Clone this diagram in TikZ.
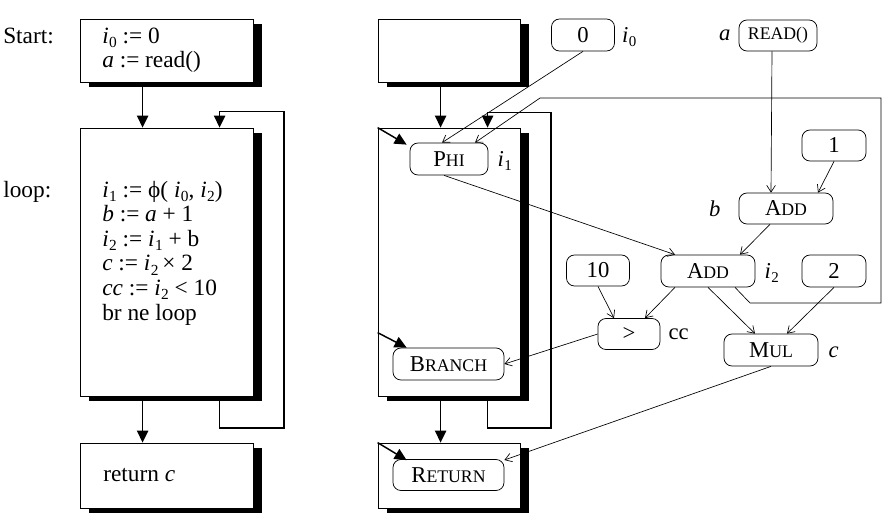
\documentclass[tikz,border=0pt]{standalone}
\usepackage{fontspec}
\setmainfont{Liberation Serif}
\usetikzlibrary{arrows.meta,calc,shadows}
\newcommand\bfnt{\fontsize{17.5}{17.5}\selectfont}
\newcommand\nfnt{\fontsize{17}{17}\selectfont}
\newcommand\smc[2]{#1{\fontsize{13.3}{13.3}\selectfont #2}}
\newcommand\vi[1]{\textit{i}\kern0.3pt\raisebox{-0.18em}{\fontsize{0.66em}{0.66em}\selectfont #1}}
\begin{document}
\begin{tikzpicture}[x=0.75pt,y=-0.75pt,
  blk/.style={draw=black,line width=0.6pt,fill=white,inner sep=0pt,
    drop shadow={shadow xshift=6.4pt,shadow yshift=-3.4pt,fill=black,opacity=1}},
  op/.style={draw=black,line width=0.55pt,rounded corners=6pt,fill=white,inner sep=0pt,font=\nfnt},
  txt/.style={inner sep=0pt,font=\bfnt},
  lbl/.style={inner sep=0pt,font=\nfnt},
  edge/.style={line width=0.5pt,-{Straight Barb[length=5pt,width=6.5pt]}},
  thk/.style={line width=1.1pt,-{Triangle[length=9pt,width=8.5pt]}}]
\useasboundingbox (0,0) rectangle (888,522);

% ---- left column blocks
\node[blk,minimum width=129.75pt,minimum height=47.25pt] (lst) at (166.5,50.5) {};
\node[blk,minimum width=129.75pt,minimum height=201pt] (llp) at (166.5,262) {};
\node[blk,minimum width=129.75pt,minimum height=48.75pt] (lrt) at (166.5,475.5) {};

\node[txt,anchor=base west] (lab1) at (3,43) {Start:};
\node[txt,anchor=base west] (lab2) at (3,197) {loop:};
\node[txt,anchor=base west] (s1) at (102,43) {\vi{0} := 0};
\node[txt,anchor=base west] (s2) at (102,67.6) {\textit{a} := read()};
\node[txt,anchor=base west] (l1) at (102,197) {\vi{1} := ϕ( \vi{0}, \vi{2})};
\node[txt,anchor=base west] (l2) at (102,221.6) {\textit{b} := \textit{a} + 1};
\node[txt,anchor=base west] (l3) at (102,246.2) {\vi{2} := \vi{1} + b};
\node[txt,anchor=base west] (l4) at (102,270.8) {\textit{c} := \vi{2}\,× 2};
\node[txt,anchor=base west] (l5) at (102,295.4) {\textit{cc} := \vi{2} < 10};
\node[txt,anchor=base west] (l6) at (102,320) {br ne loop};
\node[txt,anchor=base west] (r1) at (103,481) {return \textit{c}};

\draw[thk] ($(lst.south west)+(63,0)$) -- ($(llp.north west)+(63,0)$);
\draw[thk] ($(llp.south west)+(63,0)$) -- ($(lrt.north west)+(63,0)$);
\draw[thk] ($(llp.south west)+(140,0)$) |- (284,428) |- ($(llp.north west)+(140,-16)$) -- ($(llp.north west)+(140,0)$);

% ---- right column blocks
\node[blk,minimum width=106.5pt,minimum height=47.25pt] (rst) at (449,50.5) {};
\node[blk,minimum width=106.5pt,minimum height=201pt] (rlp) at (449,262) {};
\node[blk,minimum width=106.5pt,minimum height=48.75pt] (rrt) at (449,475.5) {};

\draw[thk] ($(rst.south west)+(63,0)$) -- ($(rlp.north west)+(63,0)$);
\draw[thk] ($(rlp.south west)+(63,0)$) -- ($(rrt.north west)+(63,0)$);
\draw[thk] ($(rlp.south west)+(110,0)$) |- (551,428) |- ($(rlp.north west)+(110,-15)$) -- ($(rlp.north west)+(110,0)$);

% ---- graph nodes
\node[op,minimum width=58.5pt,minimum height=24pt] (phi) at (449,159) {\smc{P}{HI}};
\node[op,minimum width=47.25pt,minimum height=24pt] (zero) at (583,35) {0};
\node[op,minimum width=58.5pt,minimum height=23.25pt] (read) at (778,35.5) {\fontsize{13.3}{13.3}\selectfont READ()};
\node[op,minimum width=48pt,minimum height=23.25pt] (one) at (834,145.5) {1};
\node[op,minimum width=70.5pt,minimum height=23.25pt] (addb) at (786,208.5) {\smc{A}{DD}};
\node[op,minimum width=70.5pt,minimum height=24pt] (addi) at (708,271) {\smc{A}{DD}};
\node[op,minimum width=48pt,minimum height=24pt] (two) at (834,271) {2};
\node[op,minimum width=47.25pt,minimum height=23.25pt] (ten) at (598,270.5) {10};
\node[op,minimum width=46.5pt,minimum height=23.25pt] (gt) at (629,334) {>};
\node[op,minimum width=70.5pt,minimum height=24pt] (mul) at (771,350) {\smc{M}{UL}};
\node[op,minimum width=83.25pt,minimum height=24pt] (branch) at (448.5,364) {\smc{B}{RANCH}};
\node[op,minimum width=83.25pt,minimum height=23.25pt] (ret) at (448.5,475) {\smc{R}{ETURN}};

% labels
\node[lbl,anchor=west] (li0) at ($(zero.east)+(7,2)$) {\vi{0}};
\node[lbl,anchor=west] (li1) at ($(phi.east)+(9,2)$) {\vi{1}};
\node[lbl,anchor=east] (la) at ($(read.west)+(-8,0)$) {\textit{a}};
\node[lbl,anchor=east] (lb) at ($(addb.west)+(-18,0)$) {\textit{b}};
\node[lbl,anchor=west] (li2) at ($(addi.east)+(9,2)$) {\vi{2}};
\node[lbl,anchor=west] (lcc) at ($(gt.east)+(8,0)$) {cc};
\node[lbl,anchor=west] (lc) at ($(mul.east)+(10,2)$) {\textit{c}};

% entry arrows
\draw[thk] (rlp.north west) -- ($(phi.north west)+(-3,2)$);
\draw[thk] ($(branch.north west)+(-15,-15)$) -- ($(branch.north west)+(14,0)$);
\draw[thk] (rrt.north west) -- ($(ret.north west)+(14,1)$);

% data edges
\draw[edge] (zero.south) -- ($(phi.north)+(-7,0)$);
\draw[edge] ($(addi.south)+(27,0)$) -- (750,303) -- (881,303) -- (881,98) -- (540,98) -- ($(phi.north)+(26,0)$);
\draw[edge] ($(read.south)+(-6,0)$) -- ($(addb.north)+(-15,0)$);
\draw[edge] (one.south) -- ($(addb.north)+(32,0)$);
\draw[edge] ($(addb.south)+(-16,0)$) -- ($(addi.north)+(32,0)$);
\draw[edge] ($(phi.south)+(-5,0)$) -- ($(addi.north)+(-33,0)$);
\draw[edge] ($(addi.south)+(-33,0)$) -- ($(gt.north)+(16,0)$);
\draw[edge] (ten.south) -- ($(gt.north)+(-15,0)$);
\draw[edge] (addi.south) -- ($(mul.north)+(-16,0)$);
\draw[edge] (two.south) -- ($(mul.north)+(16,0)$);
\draw[edge] (gt.west) -- (branch.east);
\draw[edge] (mul.south) -- ($(ret.east)+(0,-15)$);
\end{tikzpicture}
\end{document}
